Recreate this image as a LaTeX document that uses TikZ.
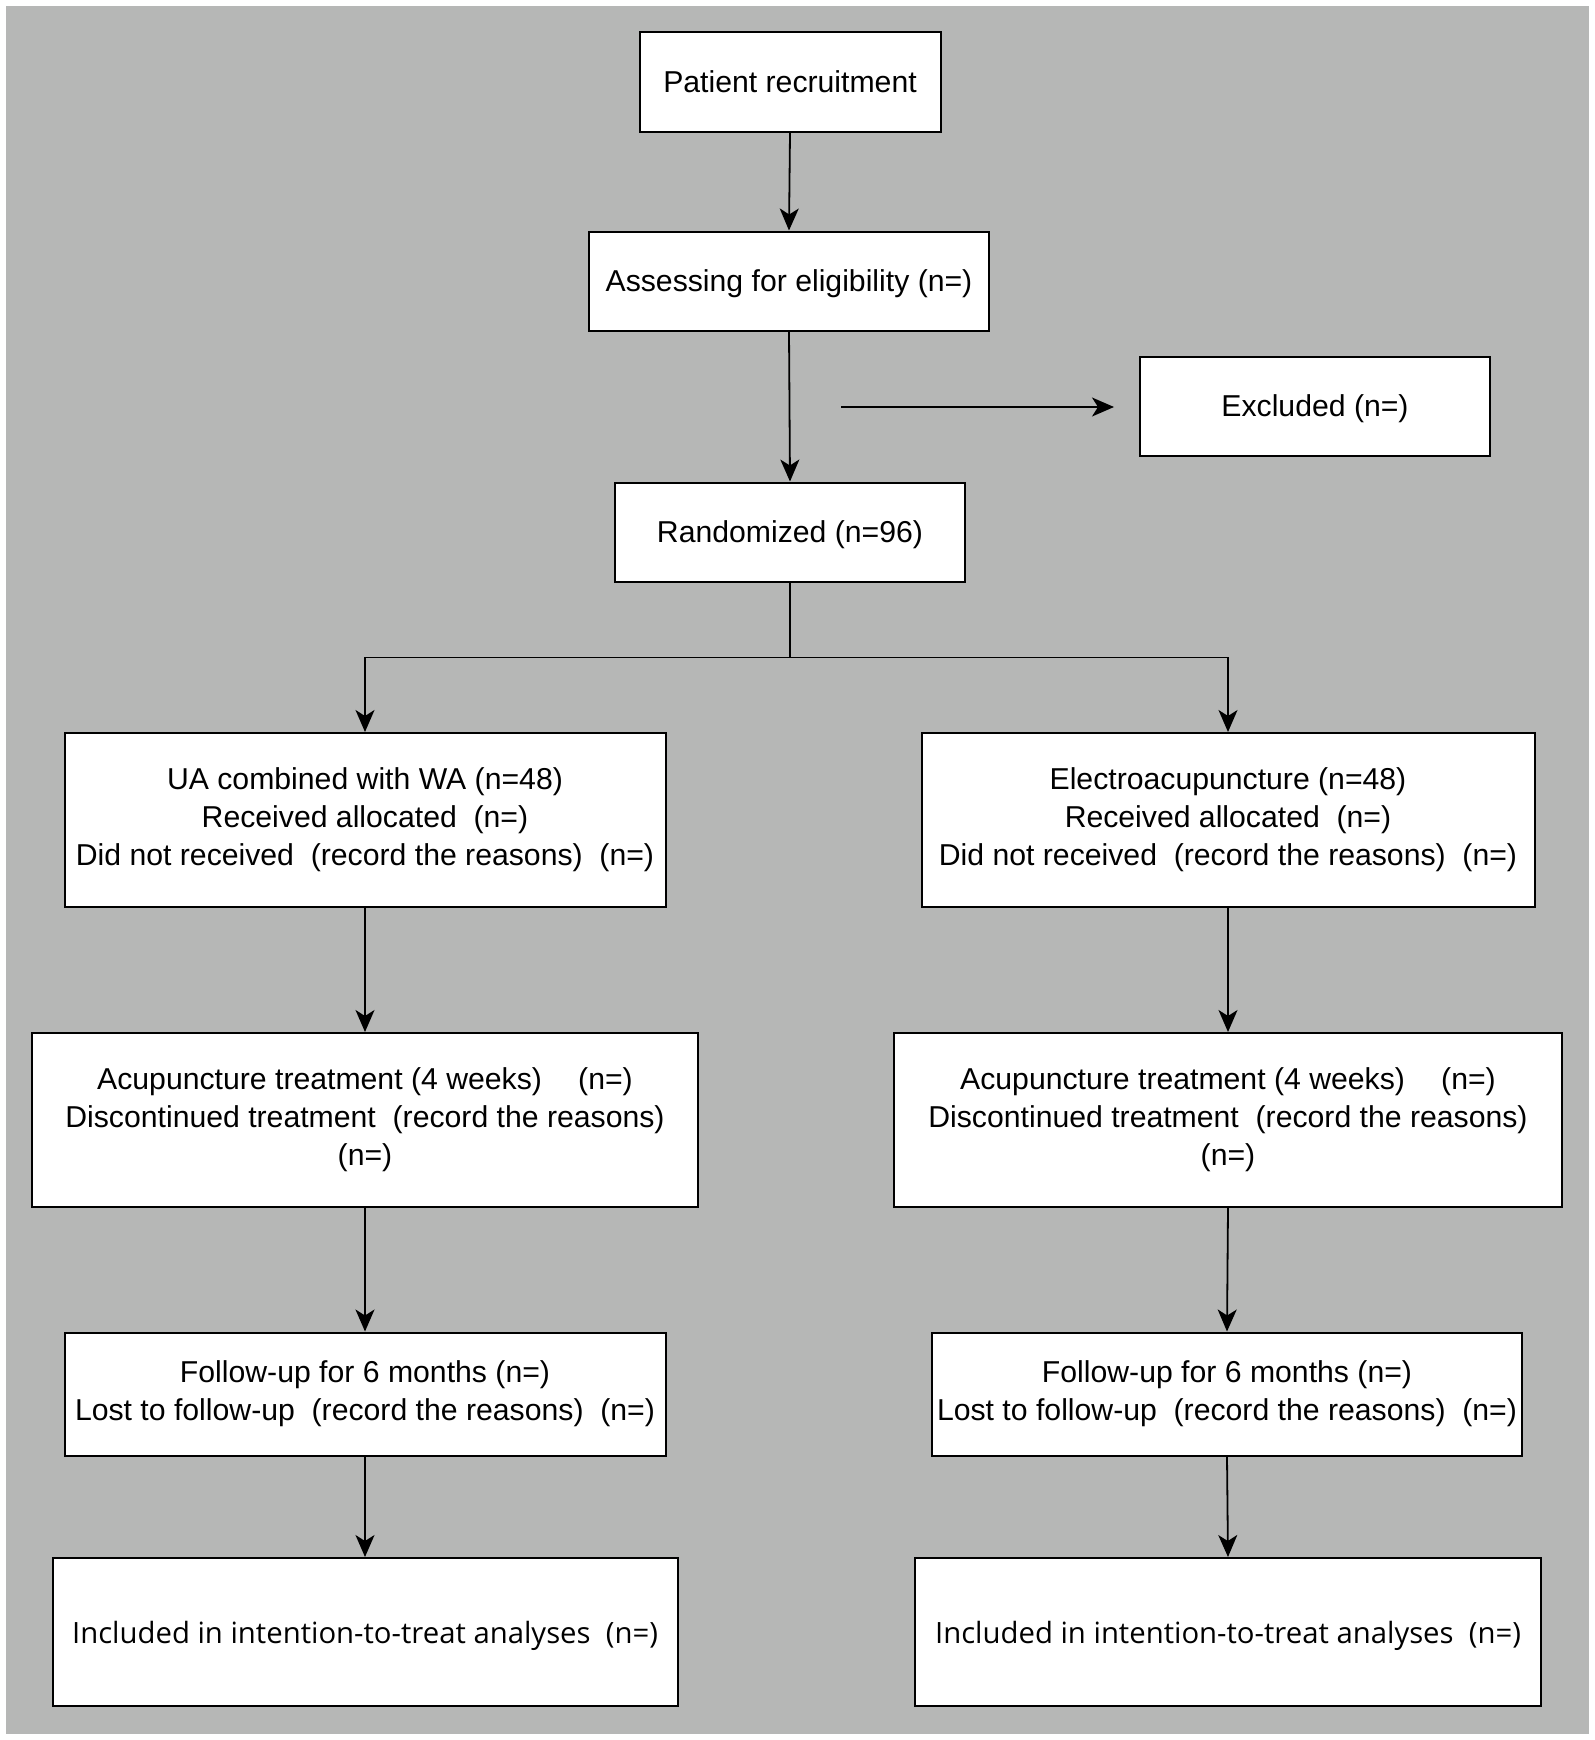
\documentclass[tikz,border=0pt]{standalone}
\usepackage{fontspec}
\setmainfont{Liberation Sans}
\newfontfamily\segoe{Open Sans}
\usetikzlibrary{arrows.meta}
\definecolor{bggray}{RGB}{182,183,182}
\begin{document}
\begin{tikzpicture}[x=1pt,y=-1pt,
  box/.style={draw=black, line width=2pt, fill=white, inner sep=0pt, align=center,
    font=\fontsize{30.2}{38}\selectfont},
  single/.style={text depth=0pt},
  conn/.style={line width=1.8pt, draw=black},
  arr/.style={conn, -{Stealth[length=22pt,width=19pt,inset=6pt]}}]
\fill[white] (0,0) rectangle (1595,1740);
\fill[bggray] (6,6) rectangle (1589,1734);
\useasboundingbox (0,0) rectangle (1595,1740);

% main column
\node[box, single, minimum width=301pt, minimum height=100pt] (pr) at (790,82) {Patient recruitment};
\node[box, single, minimum width=400pt, minimum height=99pt] (as) at (789,281) {Assessing for eligibility (n=)};
\node[box, single, minimum width=350pt, minimum height=99pt] (ex) at (1315,406) {Excluded (n=)};
\node[box, single, minimum width=350pt, minimum height=99pt] (ra) at (790,532) {Randomized (n=96)};

% left column
\node[box, minimum width=601pt, minimum height=174pt] (l1) at (365,820)
  {UA combined with WA (n=48)\\Received allocated\ \ (n=)\\Did not received\ \ (record the reasons)\ \ (n=)};
\node[box, minimum width=666pt, minimum height=174pt] (l2) at (365,1120)
  {Acupuncture treatment (4 weeks)\hspace{1.2em}(n=)\\Discontinued treatment\ \ (record the reasons)\\(n=)};
\node[box, minimum width=601pt, minimum height=123pt] (l3) at (365,1394)
  {Follow-up for 6 months (n=)\\Lost to follow-up\ \ (record the reasons)\ \ (n=)};
\node[box, single, minimum width=625pt, minimum height=148pt, font=\segoe\fontsize{29.3}{36}\selectfont] (l4) at (365,1632)
  {Included in intention-to-treat analyses\ \ (n=)};

% right column
\node[box, minimum width=613pt, minimum height=174pt] (r1) at (1228,820)
  {Electroacupuncture (n=48)\\Received allocated\ \ (n=)\\Did not received\ \ (record the reasons)\ \ (n=)};
\node[box, minimum width=668pt, minimum height=174pt] (r2) at (1228,1120)
  {Acupuncture treatment (4 weeks)\hspace{1.2em}(n=)\\Discontinued treatment\ \ (record the reasons)\\(n=)};
\node[box, minimum width=590pt, minimum height=123pt] (r3) at (1227,1394)
  {Follow-up for 6 months (n=)\\Lost to follow-up\ \ (record the reasons)\ \ (n=)};
\node[box, single, minimum width=626pt, minimum height=148pt, font=\segoe\fontsize{29.3}{36}\selectfont] (r4) at (1228,1632)
  {Included in intention-to-treat analyses\ \ (n=)};

% connectors
\draw[arr] (pr.south) -- (as.north);
\draw[arr] (as.south) -- (ra.north);
\coordinate (exs) at (841,407);
\draw[arr, shorten >=25pt] (exs) -- (ex.west |- exs);
\draw[conn] (ra.south) -- ++(0,75) coordinate (br);
\draw[arr] (br) -| (l1.north);
\draw[arr] (br) -| (r1.north);
\draw[arr] (l1.south) -- (l2.north);
\draw[arr] (l2.south) -- (l3.north);
\draw[arr] (l3.south) -- (l4.north);
\draw[arr] (r1.south) -- (r2.north);
\draw[arr] (r2.south) -- (r3.north);
\draw[arr] (r3.south) -- (r4.north);
\end{tikzpicture}
\end{document}
